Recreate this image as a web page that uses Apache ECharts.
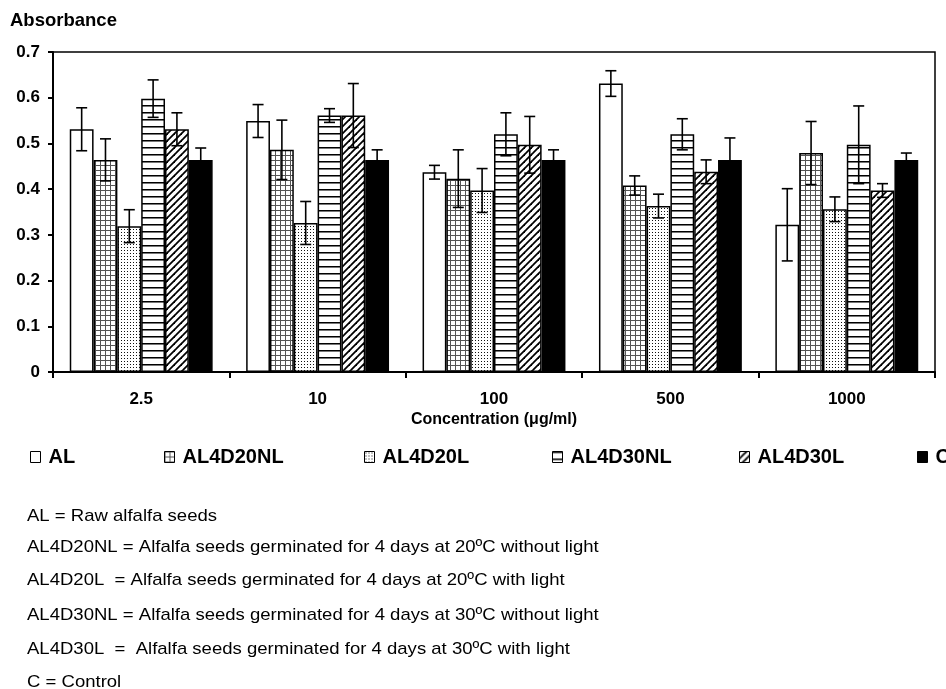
<!DOCTYPE html>
<html><head><meta charset="utf-8">
<script src="https://cdn.jsdelivr.net/npm/echarts@6/dist/echarts.min.js"></script>
<style>html,body{margin:0;padding:0;background:#fff}#c{width:946px;height:689px}</style>
</head><body><div id="c"></div>
<script>
// ---- data ----
const categories = ['2.5', '10', '100', '500', '1000'];
const seriesNames = ['AL', 'AL4D20NL', 'AL4D20L', 'AL4D30NL', 'AL4D30L', 'C'];
const AL       = [0.531, 0.549, 0.437, 0.631, 0.322];
const AL4D20NL = [0.464, 0.486, 0.423, 0.408, 0.479];
const AL4D20L  = [0.319, 0.326, 0.397, 0.363, 0.356];
const AL4D30NL = [0.598, 0.561, 0.520, 0.520, 0.497];
const AL4D30L  = [0.531, 0.561, 0.497, 0.438, 0.397];
const C        = [0.464, 0.464, 0.464, 0.464, 0.464];
const AL_err       = [0.047, 0.036, 0.015, 0.028, 0.079];
const AL4D20NL_err = [0.046, 0.065, 0.063, 0.021, 0.069];
const AL4D20L_err  = [0.036, 0.047, 0.048, 0.026, 0.027];
const AL4D30NL_err = [0.041, 0.015, 0.047, 0.034, 0.085];
const AL4D30L_err  = [0.036, 0.070, 0.062, 0.026, 0.015];
const C_err        = [0.026, 0.022, 0.022, 0.048, 0.015];
const yMin = 0, yMax = 0.7, yStep = 0.1;
const yTitle = 'Absorbance';
const xTitle = 'Concentration (\u03bcg/ml)';
const footnotes = [
  'AL = Raw alfalfa seeds',
  'AL4D20NL = Alfalfa seeds germinated for 4 days at 20\u00baC without light',
  'AL4D20L  = Alfalfa seeds germinated for 4 days at 20\u00baC with light',
  'AL4D30NL = Alfalfa seeds germinated for 4 days at 30\u00baC without light',
  'AL4D30L  =  Alfalfa seeds germinated for 4 days at 30\u00baC with light',
  'C = Control'
];

const values = [AL, AL4D20NL, AL4D20L, AL4D30NL, AL4D30L, C];
const errors = [AL_err, AL4D20NL_err, AL4D20L_err, AL4D30NL_err, AL4D30L_err, C_err];

// ---- layout / style ----
const FONT = '"Liberation Sans", Arial, Helvetica, sans-serif';
const CAT_GAP = 0.19;
const legendLeft = [30, 164, 364, 552, 739, 917];
const footY = [516, 547, 580, 615, 649, 682];

function tile(size, draw) {
  const c = document.createElement('canvas');
  c.width = size; c.height = size;
  const g = c.getContext('2d');
  g.fillStyle = '#fff'; g.fillRect(0, 0, size, size);
  draw(g, size);
  return { image: c, repeat: 'repeat' };
}
const patterns = [
  '#ffffff',
  tile(5, (g, s) => { g.fillStyle = '#555'; g.fillRect(0, 0, 1, s); g.fillRect(0, 0, s, 1); }),
  tile(3, (g, s) => { g.fillStyle = '#111'; g.fillRect(1, 1, 1, 1); }),
  tile(7, (g, s) => { g.fillStyle = '#000'; g.fillRect(0, 0, s, 1); g.fillStyle = '#777'; g.fillRect(0, 1, s, 1); }),
  tile(7, (g, s) => {
    g.strokeStyle = '#000'; g.lineWidth = 1.8;
    for (let k = -1; k <= 1; k++) {
      g.beginPath(); g.moveTo(-1 + k * s, s + 1); g.lineTo(s + 1 + k * s, -1); g.stroke();
    }
  }),
  '#000000'
];

const barSeries = seriesNames.map((n, i) => ({
  name: n, type: 'bar', data: values[i],
  barGap: '0%', barCategoryGap: (CAT_GAP * 100) + '%',
  itemStyle: { color: patterns[i], borderColor: '#000', borderWidth: 1.5 },
  emphasis: { disabled: true }, z: 2
}));

const errData = [];
values.forEach((arr, si) => arr.forEach((v, ci) => errData.push([ci, si, v, errors[si][ci]])));

const errSeries = {
  type: 'custom', z: 5, silent: true,
  encode: { x: 0, y: 2 },
  data: errData,
  renderItem: function (params, api) {
    const ci = api.value(0), si = api.value(1), v = api.value(2), e = api.value(3);
    const band = api.size([1, 0])[0];
    const total = band * (1 - CAT_GAP);
    const bw = total / seriesNames.length;
    const cx = api.coord([ci, 0])[0] - total / 2 + bw * (si + 0.5);
    const yt = api.coord([ci, v + e])[1], yb = api.coord([ci, v - e])[1];
    const hw = 5.5, st = { stroke: '#000', lineWidth: 1.6 };
    return { type: 'group', children: [
      { type: 'line', shape: { x1: cx, y1: yt, x2: cx, y2: yb }, style: st },
      { type: 'line', shape: { x1: cx - hw, y1: yt, x2: cx + hw, y2: yt }, style: st },
      { type: 'line', shape: { x1: cx - hw, y1: yb, x2: cx + hw, y2: yb }, style: st }
    ]};
  }
};

const chart = echarts.init(document.getElementById('c'), null, { renderer: 'canvas' });
chart.setOption({
  backgroundColor: '#fff',
  animation: false,
  title: { text: yTitle, left: 10, top: 11, padding: 0,
    textStyle: { fontFamily: FONT, fontWeight: 'bold', fontSize: 18.5, color: '#000' } },
  grid: { left: 53, right: 11, top: 52, bottom: 317, show: true, borderColor: '#000', borderWidth: 1.5, containLabel: false },
  legend: seriesNames.map((n, i) => ({
    data: [n], left: legendLeft[i], top: 447, padding: 0, selectedMode: false,
    itemWidth: 10, itemHeight: 11, icon: 'rect',
    itemStyle: { borderColor: '#000', borderWidth: 1 },
    textStyle: { fontFamily: FONT, fontWeight: 'bold', fontSize: 20, color: '#000', padding: [0, 0, 0, 3] }
  })),
  xAxis: {
    type: 'category', data: categories,
    axisLine: { show: true, lineStyle: { color: '#000', width: 2 } },
    axisTick: { show: true, alignWithLabel: false, length: 6, lineStyle: { color: '#000', width: 2 } },
    axisLabel: { fontFamily: FONT, fontWeight: 'bold', fontSize: 17, color: '#000', margin: 19 },
    splitLine: { show: false },
    name: xTitle, nameLocation: 'middle', nameGap: 40,
    nameTextStyle: { fontFamily: FONT, fontWeight: 'bold', fontSize: 16, color: '#000' }
  },
  yAxis: {
    type: 'value', min: yMin, max: yMax, interval: yStep,
    axisLine: { show: true, lineStyle: { color: '#000', width: 2 } },
    axisTick: { show: true, length: 5, lineStyle: { color: '#000', width: 2 } },
    axisLabel: { fontFamily: FONT, fontWeight: 'bold', fontSize: 17, color: '#000', margin: 13,
      formatter: v => (Math.abs(v) < 1e-9 ? '0' : v.toFixed(1)) },
    splitLine: { show: false }
  },
  graphic: footnotes.map((t, i) => ({
    type: 'text', x: 27, y: footY[i], scaleX: 1.09, silent: true,
    style: { text: t, font: '17px ' + FONT, fill: '#000', textVerticalAlign: 'middle', verticalAlign: 'middle' }
  })),
  series: barSeries.concat([errSeries])
});
</script>
</body></html>
